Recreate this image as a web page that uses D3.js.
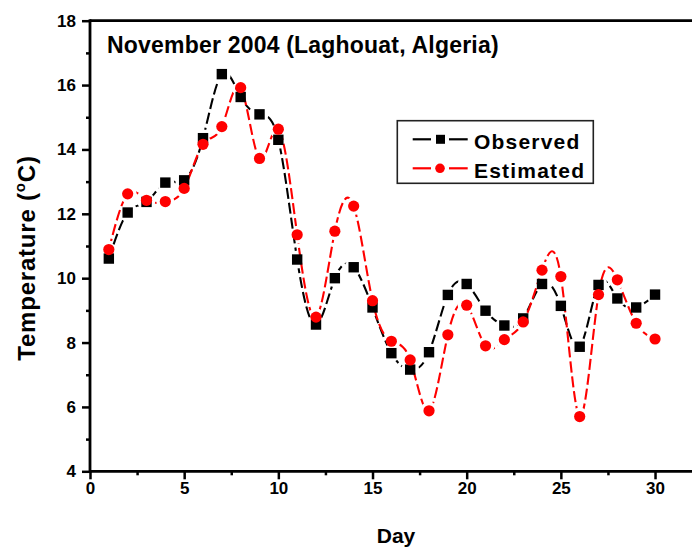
<!DOCTYPE html>
<html><head><meta charset="utf-8">
<script src="https://cdn.jsdelivr.net/npm/d3@7"></script>
<style>html,body{margin:0;padding:0;background:#fff;}svg{display:block;}
text{font-family:"Liberation Sans",Arial,sans-serif;font-weight:bold;fill:#000;}</style>
</head><body>
<svg id="chart" width="692" height="547"></svg>
<script>
const days = d3.range(1, 31);
const observed = [10.61,12.04,12.37,12.97,13.04,14.35,16.34,15.63,15.09,14.30,
  10.58,8.56,10.00,10.34,9.09,7.67,7.16,7.70,9.48,9.82,
  8.99,8.53,8.75,9.82,9.14,7.87,9.79,9.37,9.09,9.49];
const estimated = [10.89,12.62,12.42,12.38,12.79,14.16,14.71,15.92,13.72,14.63,
  11.35,8.79,11.46,12.24,9.30,8.04,7.46,5.88,8.24,9.16,
  7.90,8.09,8.64,10.25,10.05,5.70,9.49,9.95,8.60,8.11];
const xTicks = [0,5,10,15,20,25,30];
const yTicks = [4,6,8,10,12,14,16,18];
const title = "November 2004 (Laghouat, Algeria)";
const seriesNames = ["Observed","Estimated"];
const seriesColors = ["#000000","#ff0000"];

const svg = d3.select("#chart");
const x = d3.scaleLinear().domain([0, 32]).range([90, 692.7]);
const y = d3.scaleLinear().domain([4, 18]).range([471.3, 20.7]);

const xAxis = d3.axisBottom(x).tickValues(xTicks).tickSize(8).tickPadding(3).tickFormat(d3.format("d"));
const xMinor = d3.axisBottom(x).tickValues(d3.range(2.5, 32, 5)).tickSize(4).tickFormat("");
const yAxis = d3.axisLeft(y).tickValues(yTicks).tickSize(8).tickPadding(6).tickFormat(d3.format("d"));
const yMinor = d3.axisLeft(y).tickValues(d3.range(5, 18, 2)).tickSize(4).tickFormat("");

function style(g){
  g.select(".domain").remove();
  g.selectAll("line").attr("stroke","#000").attr("stroke-width",2.5);
  g.selectAll("text").attr("font-size",17).style("font-family",'"Liberation Sans",Arial,sans-serif').attr("font-weight","bold").attr("fill","#000");
}
svg.append("g").attr("transform","translate(0,471.3)").call(xMinor).call(style);
svg.append("g").attr("transform","translate(0,471.3)").call(xAxis).call(style);
svg.append("g").attr("transform","translate(90,0)").call(yMinor).call(style);
svg.append("g").attr("transform","translate(90,0)").call(yAxis).call(style);

svg.append("line").attr("x1",90).attr("x2",700).attr("y1",y(4)).attr("y2",y(4)).attr("stroke","#000").attr("stroke-width",2.8);
svg.append("line").attr("x1",90).attr("x2",700).attr("y1",y(18)).attr("y2",y(18)).attr("stroke","#000").attr("stroke-width",2.8);
svg.append("line").attr("x1",90).attr("x2",90).attr("y1",y(18)-1.4).attr("y2",y(4)+1.4).attr("stroke","#000").attr("stroke-width",2.8);

const defs = svg.append("defs");
const seriesData = [observed, estimated];
const line = d3.line().x((d,i)=>x(days[i])).y(d=>y(d)).curve(d3.curveNatural);
seriesData.forEach((vals, si) => {
  const m = defs.append("mask").attr("id","gap"+si).attr("maskUnits","userSpaceOnUse")
    .attr("x",0).attr("y",0).attr("width",692).attr("height",547);
  m.append("rect").attr("width",692).attr("height",547).attr("fill","#fff");
  m.selectAll("circle").data(vals).join("circle")
    .attr("cx",(d,i)=>x(days[i])).attr("cy",d=>y(d)).attr("r",9).attr("fill","#000");
  svg.append("path").datum(vals).attr("d",line).attr("fill","none")
    .attr("stroke",seriesColors[si]).attr("stroke-width",2.1)
    .attr("stroke-dasharray","11,4").attr("mask","url(#gap"+si+")");
});
svg.selectAll("rect.obs").data(observed).join("rect").attr("class","obs")
  .attr("x",(d,i)=>x(days[i])-5.2).attr("y",d=>y(d)-5.2).attr("width",10.4).attr("height",10.4).attr("fill","#000");
svg.selectAll("circle.est").data(estimated).join("circle").attr("class","est")
  .attr("cx",(d,i)=>x(days[i])).attr("cy",d=>y(d)).attr("r",5.6).attr("fill","#ff0000");

svg.append("text").attr("x",107).attr("y",53).attr("font-size",23).attr("letter-spacing",0.2).text(title);

const lg = svg.append("g");
lg.append("rect").attr("x",397.3).attr("y",120.7).attr("width",196).attr("height",62.6)
  .attr("fill","#fff").attr("stroke","#222").attr("stroke-width",1.6);
seriesNames.forEach((nm, i) => {
  const ly = 139.3 + i*29;
  lg.append("line").attr("x1",412.7).attr("x2",431).attr("y1",ly).attr("y2",ly).attr("stroke",seriesColors[i]).attr("stroke-width",2.2);
  lg.append("line").attr("x1",449).attr("x2",467.7).attr("y1",ly).attr("y2",ly).attr("stroke",seriesColors[i]).attr("stroke-width",2.2);
  if (i===0) lg.append("rect").attr("x",436).attr("y",ly-4.5).attr("width",9).attr("height",9).attr("fill","#000");
  else lg.append("circle").attr("cx",440).attr("cy",ly).attr("r",4.8).attr("fill","#ff0000");
  lg.append("text").attr("x",474).attr("y",ly+9.2).attr("font-size",21).attr("letter-spacing",1.2).text(nm);
});

svg.append("text").attr("x",396).attr("y",543).attr("text-anchor","middle").attr("font-size",21).text("Day");
const yl = svg.append("text").attr("transform","translate(35,258) rotate(-90)").attr("text-anchor","middle").attr("font-size",24).attr("letter-spacing",0.8);
yl.append("tspan").text("Temperature (");
yl.append("tspan").attr("font-size",15).attr("dy",-10).text("o");
yl.append("tspan").attr("dy",10).text("C)");
</script>
</body></html>
